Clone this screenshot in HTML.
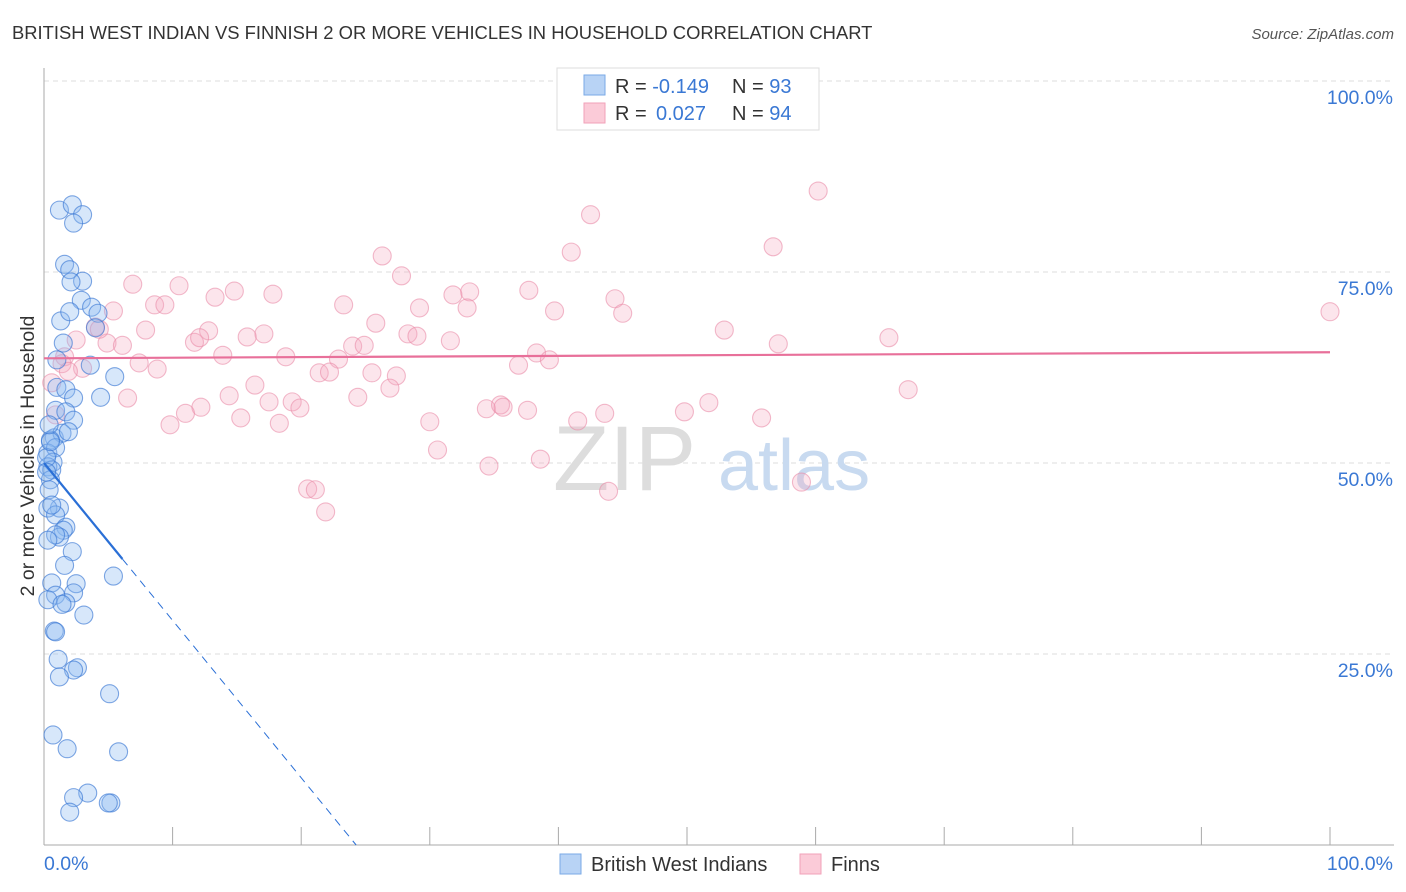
<!DOCTYPE html>
<html><head><meta charset="utf-8">
<style>
body{margin:0;background:#fff;font-family:"Liberation Sans",sans-serif;}
#wrap{position:relative;width:1406px;height:892px;overflow:hidden;}
svg text{font-family:"Liberation Sans",sans-serif;}
</style></head>
<body>
<div id="wrap">
<svg id="chart" width="1406" height="892">
  <text x="12" y="39" font-size="18.4" fill="#333">BRITISH WEST INDIAN VS FINNISH 2 OR MORE VEHICLES IN HOUSEHOLD CORRELATION CHART</text>
  <text x="1394" y="39" font-size="15" fill="#555" font-style="italic" text-anchor="end">Source: ZipAtlas.com</text>
  <text x="34" y="456" font-size="19.5" fill="#333" text-anchor="middle" transform="rotate(-90 34 456)">2 or more Vehicles in Household</text>
  <g id="grid"></g>
  <g id="watermark">
    <text x="553" y="490" font-size="92" fill="#ddd" font-family="Liberation Serif">ZIP</text>
    <text x="718" y="490" font-size="72" fill="#c8daf0">atlas</text>
  </g>
  <g id="axes"></g>
  <g id="pinkPts"></g>
  <g id="bluePts"></g>
  <g id="lines"></g>
  <g>
    <rect x="557" y="68" width="262" height="62" fill="#fff" stroke="#ddd"/>
    <rect x="584" y="75" width="21" height="20" fill="#b8d3f5" stroke="#7aa9e6"/>
    <rect x="584" y="103" width="21" height="20" fill="#fbcbd8" stroke="#f1a2b9"/>
    <text x="615" y="93" font-size="20" fill="#333">R = <tspan fill="#3a78d4">-0.149</tspan><tspan x="732">N = </tspan><tspan fill="#3a78d4">93</tspan></text>
    <text x="615" y="120" font-size="20" fill="#333">R = <tspan fill="#3a78d4" x="656">0.027</tspan><tspan x="732">N = </tspan><tspan fill="#3a78d4">94</tspan></text>
  </g>
  <g>
    <rect x="560" y="854" width="21" height="20" fill="#b8d3f5" stroke="#7aa9e6"/>
    <text x="591" y="871" font-size="20" fill="#333">British West Indians</text>
    <rect x="800" y="854" width="21" height="20" fill="#fbcbd8" stroke="#f1a2b9"/>
    <text x="831" y="871" font-size="20" fill="#333">Finns</text>
  </g>
</svg>
</div>
<script>
const yTicks = [25, 50, 75, 100];
const yTickLabels = ["25.0%", "50.0%", "75.0%", "100.0%"];
const xEndLabels = ["0.0%", "100.0%"];
const blueX = [1.2,2.2,3.0,2.3,1.6,2.0,3.0,2.1,2.9,3.7,4.2,1.3,2.0,4.0,1.5,3.6,5.5,1.0,1.7,4.4,2.3,0.9,1.7,2.3,0.8,1.4,1.9,0.5,0.3,0.9,0.7,0.3,0.6,0.5,0.4,1.2,0.3,0.9,1.7,1.5,1.2,0.9,0.3,2.2,1.6,5.4,0.6,2.5,2.3,0.9,0.3,1.7,1.4,3.1,0.8,0.9,1.1,2.6,2.3,1.2,5.1,0.7,1.8,5.8,3.4,2.3,5.2,5.0,2.0,0.2,0.2,0.5,1.0,0.4,0.6];
const blueY = [83.1,83.8,82.5,81.4,76.0,75.3,73.8,73.7,71.3,70.4,69.6,68.6,69.8,67.7,65.7,62.8,61.3,59.9,59.6,58.6,58.5,56.9,56.7,55.6,53.3,53.9,54.1,53.0,51.3,52.0,50.1,49.5,49.1,47.8,46.5,44.1,44.1,43.2,41.6,41.2,40.3,40.6,39.9,38.4,36.6,35.2,34.3,34.2,33.0,32.7,32.1,31.7,31.5,30.1,28.0,27.9,24.3,23.2,22.9,22.0,19.8,14.4,12.6,12.2,6.8,6.2,5.5,5.5,4.3,50.7,48.8,52.8,63.5,55.0,44.5];
const pinkX = [60.2,42.5,56.7,41.0,26.3,27.8,6.9,10.5,14.8,17.8,13.3,37.7,33.1,31.8,44.4,8.6,9.4,23.3,29.2,32.9,39.7,45.0,5.4,100,25.8,4.0,12.8,7.9,17.1,15.8,28.3,29.0,52.9,65.7,11.7,12.1,31.6,2.5,4.9,6.1,24.0,24.9,57.1,1.6,13.9,18.8,38.3,39.3,22.9,3.0,7.4,8.8,36.9,21.4,22.2,25.5,27.4,16.4,26.9,67.2,6.5,14.4,17.5,24.4,19.3,19.9,12.2,11.0,34.4,35.5,37.6,35.7,49.8,51.7,43.6,15.3,18.3,9.8,30.0,41.5,55.8,30.6,38.6,34.6,20.5,21.1,21.9,43.9,58.9,1.4,0.9,4.3,0.6,1.9];
const pinkY = [85.6,82.5,78.3,77.6,77.1,74.5,73.4,73.2,72.5,72.1,71.7,72.6,72.4,72.0,71.5,70.7,70.7,70.7,70.3,70.3,69.9,69.6,69.9,69.8,68.3,67.8,67.3,67.4,66.9,66.5,66.9,66.6,67.4,66.4,65.8,66.4,66.0,66.1,65.7,65.4,65.3,65.4,65.6,63.9,64.1,63.9,64.4,63.5,63.6,62.4,63.1,62.3,62.8,61.8,61.9,61.8,61.4,60.2,59.8,59.6,58.5,58.8,58.0,58.6,58.0,57.2,57.3,56.5,57.1,57.6,56.9,57.3,56.7,57.9,56.5,55.9,55.2,55.0,55.4,55.5,55.9,51.7,50.5,49.6,46.6,46.5,43.6,46.3,47.5,63.0,56.3,67.5,60.5,62.0];
const blueTrend = [50.0, -2.06];   // intercept, slope
const pinkTrend = [63.7, 0.008];
const X0=44, X1=1330, Y0=845, Y1=81;
const sx = v => X0 + (X1-X0)*v/100;
const sy = v => Y0 - (Y0-Y1)*v/100;
const NS = "http://www.w3.org/2000/svg";
function mk(tag, attrs, parent){const e=document.createElementNS(NS,tag);for(const k in attrs)e.setAttribute(k,attrs[k]);parent.appendChild(e);return e;}
const grid=document.getElementById('grid'), axes=document.getElementById('axes');
yTicks.forEach((t,i)=>{
  const l=mk('line',{x1:X0,x2:1394,y1:sy(t),y2:sy(t),stroke:'#ddd','stroke-dasharray':'5,4'},grid);
  
  
  const tx=mk('text',{x:1393,y:sy(t)+23,'font-size':19.5,fill:'#3a78d4','text-anchor':'end'},axes);
  tx.textContent=yTickLabels[i];
  
  
});
const ax=mk('line',{x1:X0,x2:1394,y1:Y0,y2:Y0,stroke:'#aaa'},axes);


const ay=mk('line',{x1:X0,x2:X0,y1:68,y2:Y0,stroke:'#aaa'},axes);


for(let i=1;i<=10;i++){
  const t=mk('line',{x1:sx(i*10),x2:sx(i*10),y1:827,y2:Y0,stroke:'#aaa'},axes);
  
  
}
[[0,'start',44],[100,'end',1393]].forEach((d,i)=>{
  const t=mk('text',{x:d[2],y:870,'font-size':19.5,fill:'#3a78d4','text-anchor':d[1]},axes);
  t.textContent=xEndLabels[i];
  
  
});
function pts(xs,ys,g,fill,stroke,name){
  xs.forEach((x,i)=>{
    const c=mk('circle',{cx:sx(x),cy:sy(ys[i]),r:9,fill:fill,stroke:stroke,'stroke-width':1.1},g);
    
    
  });
}
pts(pinkX,pinkY,document.getElementById('pinkPts'),'rgba(246,170,192,0.3)','rgba(234,140,168,0.6)','finns-point');
pts(blueX,blueY,document.getElementById('bluePts'),'rgba(140,185,240,0.35)','rgba(58,120,212,0.65)','bwi-point');
const lg=document.getElementById('lines');
const bEnd=6.1, bZero=-blueTrend[0]/blueTrend[1];
const b1=mk('line',{x1:sx(0),y1:sy(blueTrend[0]),x2:sx(bEnd),y2:sy(blueTrend[0]+blueTrend[1]*bEnd),stroke:'#2a6fd6','stroke-width':2.2},lg);


const b2=mk('line',{x1:sx(bEnd),y1:sy(blueTrend[0]+blueTrend[1]*bEnd),x2:sx(bZero),y2:sy(0),stroke:'#2a6fd6','stroke-width':1,'stroke-dasharray':'8,6'},lg);


const p1=mk('line',{x1:sx(0),y1:sy(pinkTrend[0]),x2:sx(100),y2:sy(pinkTrend[0]+pinkTrend[1]*100),stroke:'#e8709a','stroke-width':2.2},lg);


</script>
</body></html>
